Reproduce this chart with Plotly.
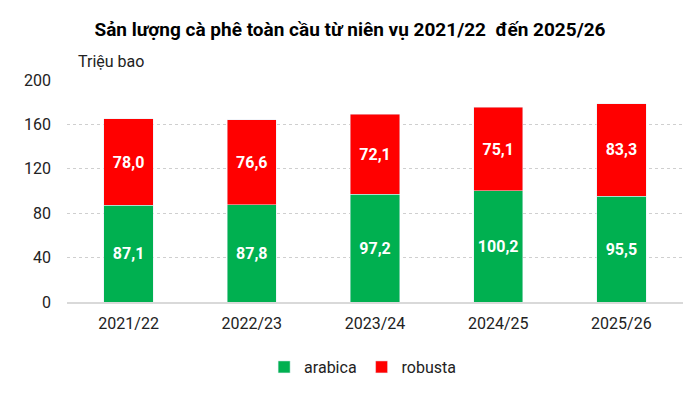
import plotly.graph_objects as go

categories = ["2021/22", "2022/23", "2023/24", "2024/25", "2025/26"]
arabica = [87.1, 87.8, 97.2, 100.2, 95.5]
robusta = [78.0, 76.6, 72.1, 75.1, 83.3]
yticks = [0, 40, 80, 120, 160, 200]

FONT = "Roboto, sans-serif"

def fmt(v):
    return f"{v:.1f}".replace(".", ",")

fig = go.Figure()
for name, vals, col in [("arabica", arabica, "#00B050"), ("robusta", robusta, "#FF0000")]:
    fig.add_trace(go.Bar(x=categories, y=vals, name=name, marker_color=col,
                         text=[fmt(v) for v in vals], texttemplate="<b>%{text}</b>",
                         textposition="inside", insidetextanchor="middle", textangle=0,
                         textfont=dict(color="white", size=16, family=FONT),
                         width=0.4))

fig.update_layout(
    barmode="stack",
    width=700, height=393,
    margin=dict(l=67, r=17, t=80, b=91, autoexpand=False),
    plot_bgcolor="white", paper_bgcolor="white",
    font=dict(family=FONT, size=16, color="#222222"),
    title=dict(text="<b>Sản lượng cà phê toàn cầu từ niên vụ 2021/22  đến 2025/26</b>",
               x=0.5, xanchor="center", y=0.925, yanchor="middle",
               font=dict(size=19, color="black")),
    uniformtext=dict(minsize=12, mode="show"),
    legend=dict(orientation="h", x=0.32, xanchor="left", y=-0.293, yanchor="middle",
                font=dict(size=16), traceorder="normal", itemwidth=30),
    yaxis=dict(range=[0, 200], tickvals=yticks, showgrid=True, gridcolor="#cfcfcf",
               griddash="dot", gridwidth=1, zeroline=False, ticks="", ticklen=0,
               ticklabelstandoff=15, tickfont=dict(size=16), automargin=False),
    xaxis=dict(showline=True, linecolor="#d9d9d9", linewidth=2, ticks="",
               ticklabelstandoff=6, tickfont=dict(size=16), automargin=False),
    showlegend=True,
)
fig.add_annotation(text="Triệu bao", xref="paper", yref="paper", x=0.015, y=1.03,
                   xanchor="left", yanchor="bottom", showarrow=False,
                   font=dict(size=16, color="#222222"))
fig.write_html("out.html", config={"displayModeBar": False},
               post_script="document.body.style.margin='0';")
